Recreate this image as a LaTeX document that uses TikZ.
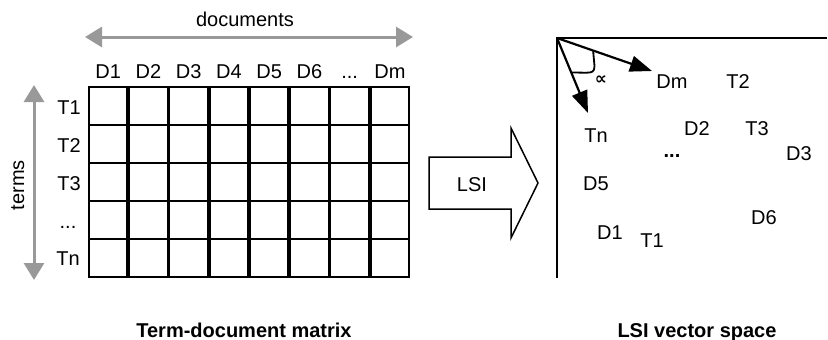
\documentclass[tikz,border=0pt]{standalone}
\usepackage{fontspec}
\setmainfont{Liberation Sans}
\newfontfamily\symfont{DejaVu Sans}
\usetikzlibrary{arrows.meta,calc}
\definecolor{arrgray}{HTML}{999999}
\tikzset{
  lbl/.style={inner sep=0pt, font=\fontsize{20}{24}\selectfont, text height=14.3pt, text depth=0pt, anchor=center},
  captxt/.style={inner sep=0pt, font=\fontsize{20}{24}\selectfont\bfseries, anchor=base},
  cell/.style={draw=black, line width=2pt, minimum width=38.5pt, minimum height=38pt, inner sep=0pt},
  grayarrow/.style={draw=arrgray, line width=3pt, {Triangle[length=17pt,width=20pt]}-{Triangle[length=17pt,width=20pt]}},
  axis/.style={draw=black, line width=2.5pt},
  vec/.style={draw=black, line width=2.2pt, -{Triangle[length=22pt,width=16pt]}},
}
\begin{document}
\begin{tikzpicture}[x=1pt,y=-1pt]
\useasboundingbox (0,0) rectangle (828,340);
% matrix cells
\foreach \r in {1,...,5}{
  \foreach \c in {1,...,8}{
    \node[cell] (c\r\c) at ({88+40.25*(\c-0.5)},{87+38*(\r-0.5)}) {};
  }
}
% column labels
\foreach \c/\t in {1/D1,2/D2,3/D3,4/D4,5/D5,6/D6,8/Dm}{
  \node[lbl] (col\c) at ({88+40.25*(\c-0.5)},71.5) {\t};
}
\node[lbl] (col7) at ({88+40.25*6.5},71.5) {...};
% row labels
\node[lbl] (row1) at (69,107) {T1};
\node[lbl] (row2) at (69,145) {T2};
\node[lbl] (row3) at (69,183) {T3};
\node[lbl] (row4) at (68,221) {...};
\node[lbl] (row5) at (68,258) {Tn};
% documents arrow
\coordinate (dl) at (85,37);
\coordinate (dr) at (413,37);
\draw[grayarrow] (dl) -- (dr);
\node[lbl] (docs) at (245,19) {documents};
% terms arrow
\coordinate (tt) at (34,85);
\coordinate (tb) at (34,280);
\draw[grayarrow] (tt) -- (tb);
\node[inner sep=0pt, font=\fontsize{20}{24}\selectfont, rotate=90, anchor=base] (terms) at (24,185) {terms};
% LSI big arrow
\draw[line width=1.5pt, line join=miter] (429,157) -- (511,157) -- (511,128) -- (538,183) -- (511,238) -- (511,209) -- (429,209) -- cycle;
\node[lbl] (lsi) at (472,184) {LSI};
% axes
\coordinate (o) at (557,38);
\coordinate (xend) at (826,38);
\coordinate (yend) at (557,277);
\draw[axis, line cap=rect] (xend) -- (o) -- (yend);
% vectors
\coordinate (dmt) at (652,71);
\coordinate (tnt) at (588,113);
\draw[vec] (o) -- (dmt);
\draw[vec] (o) -- (tnt);
% angle mark
\draw[line width=1.8pt] ($(o)!0.38!(dmt)$) -- (594.5,66) .. controls (594.5,72) and (592,72.7) .. (586,72.7) -- ($(o)!0.46!(tnt)$);
\node[inner sep=0pt, font=\symfont\bfseries\fontsize{17}{18}\selectfont] (alpha) at (601,80) {∝};
% vector space labels
\node[lbl] (vDm) at (672,81) {Dm};
\node[lbl] (vT2) at (738,81) {T2};
\node[lbl] (vTn) at (596,135) {Tn};
\node[lbl] (vD2) at (697,128) {D2};
\node[lbl] (vT3) at (757,128) {T3};
\node[lbl] (vD3) at (799,153) {D3};
\node[inner sep=0pt, font=\fontsize{20}{24}\selectfont\bfseries, anchor=base] (vdots) at (672,157) {...};
\node[lbl] (vD5) at (596,183) {D5};
\node[lbl] (vD6) at (764,217) {D6};
\node[lbl] (vD1) at (610,232) {D1};
\node[lbl] (vT1) at (652,240) {T1};
% captions
\node[captxt] (cap1) at (244,337) {Term-document matrix};
\node[captxt] (cap2) at (697,337) {LSI vector space};
\end{tikzpicture}
\end{document}
